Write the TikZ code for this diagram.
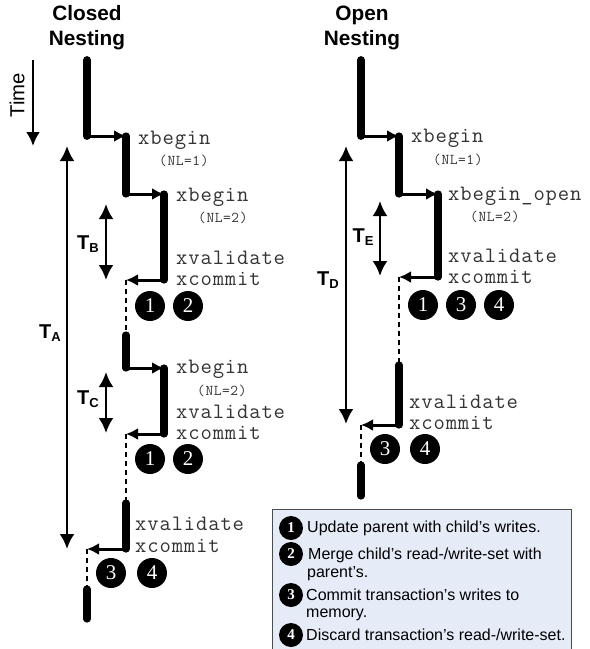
\documentclass[tikz,border=0pt]{standalone}
\usepackage{fontspec}
\setmainfont{Liberation Sans}
\newfontfamily\numfont{Liberation Serif}
\newfontfamily\opfont[LetterSpace=3.9]{Latin Modern Mono}
\usetikzlibrary{arrows.meta}
\definecolor{legendblue}{RGB}{230,236,247}
\newcommand{\dursub}[2]{#1\raisebox{-3pt}{\fontsize{13}{13}\selectfont #2}}
\begin{document}
\begin{tikzpicture}[x=1pt,y=-1pt,
txn/.style={line width=7.8pt,line cap=round},
txnT/.style={txn,line width=7.2pt},
call/.style={line width=3pt,-{Latex[length=12pt,width=12pt]}},
gap/.style={line width=2.8pt,dash pattern=on 5pt off 4pt},
span/.style={line width=2.6pt,{Latex[length=15pt,width=15pt]}-{Latex[length=15pt,width=15pt]}},
oneway/.style={line width=2.6pt,-{Latex[length=14pt,width=14pt]}},
op/.style={anchor=west,inner sep=0pt,text=black!80,font=\opfont\fontsize{22}{22}\selectfont},
nl/.style={anchor=west,inner sep=0pt,text=black!80,font=\opfont\fontsize{15}{15}\selectfont},
dur/.style={inner sep=0pt,font=\bfseries\fontsize{20}{20}\selectfont},
head/.style={inner sep=0pt,align=center,font=\bfseries\fontsize{20.8}{25}\selectfont},
num/.style={shape=circle,fill=black,text=white,inner sep=0pt,minimum size=30pt,font=\numfont\fontsize{21}{21}\selectfont},
numL/.style={num,minimum size=24pt,font=\numfont\bfseries\fontsize{15}{15}\selectfont},
leg/.style={anchor=west,inner sep=0pt,font=\fontsize{16}{16}\selectfont}]
\useasboundingbox (0,0) rectangle (590,649);
\def\xa{87};
\def\xb{126};
\def\xc{164};
\def\xd{361};
\def\xe{399};
\def\xf{438};

\node[head] (closedH) at (87,28) {Closed\\Nesting};
\node[head] (openH) at (362,28) {Open\\Nesting};
\node[inner sep=0pt,rotate=90,font=\fontsize{20.3}{20}\selectfont] (timeL) at (17,95) {Time};
\coordinate (time0) at (33,60);
\coordinate (time1) at (33,146);
\draw[oneway] (time0) -- (time1);

\coordinate (A1) at (\xa,60);
\coordinate (A2) at (\xa,136);
\coordinate (A3) at (\xb,136);
\coordinate (A4) at (\xb,194);
\coordinate (A5) at (\xc,194);
\coordinate (A6) at (\xc,280);
\coordinate (A7) at (\xb,280);
\coordinate (A8) at (\xb,335);
\coordinate (A9) at (\xb,368);
\coordinate (A10) at (\xc,368);
\coordinate (A11) at (\xc,434);
\coordinate (A12) at (\xb,434);
\coordinate (A13) at (\xb,503);
\coordinate (A14) at (\xb,549);
\coordinate (A15) at (\xa,549);
\coordinate (A16) at (\xa,589);
\coordinate (A17) at (\xa,619);
\draw[txn] (A1) -- (A2);
\draw[call] (A2) -- (A3);
\draw[txnT] (A3) -- (A4);
\draw[call] (A4) -- (A5);
\draw[txnT] (A5) -- (A6);
\draw[call] (A6) -- (A7);
\draw[gap] (A7) -- (A8);
\draw[txnT] (A8) -- (A9);
\draw[call] (A9) -- (A10);
\draw[txnT] (A10) -- (A11);
\draw[call] (A11) -- (A12);
\draw[gap] (A12) -- (A13);
\draw[txnT] (A13) -- (A14);
\draw[call] (A14) -- (A15);
\draw[gap] (A15) -- (A16);
\draw[txnT] (A16) -- (A17);

\node[op] (Ax1) at (138,140) {xbegin};
\node[nl] (Anl1) at (159,161) {(NL=1)};
\node[op] (Ax2) at (176,197) {xbegin};
\node[nl] (Anl2) at (198,218) {(NL=2)};
\node[op] (Av1) at (176,258) {xvalidate};
\node[op] (Ac1) at (176,279) {xcommit};
\node[op] (Ax3) at (176,369) {xbegin};
\node[nl] (Anl3) at (197,391) {(NL=2)};
\node[op] (Av2) at (176,412) {xvalidate};
\node[op] (Ac2) at (176,433) {xcommit};
\node[op] (Av3) at (135,524) {xvalidate};
\node[op] (Ac3) at (135,546) {xcommit};

\node[num] (An1) at (150,306) {1};
\node[num] (An2) at (188,306) {2};
\node[num] (An3) at (150,459) {1};
\node[num] (An4) at (188,459) {2};
\node[num] (An5) at (111,573) {3};
\node[num] (An6) at (152,573) {4};

\coordinate (TA0) at (67,146);
\coordinate (TA1) at (67,549);
\draw[span] (TA0) -- (TA1);
\node[dur] (TA) at (50,333) {\dursub{T}{A}};
\coordinate (TB0) at (106,204);
\coordinate (TB1) at (106,280);
\draw[span] (TB0) -- (TB1);
\node[dur] (TB) at (88,244) {\dursub{T}{B}};
\coordinate (TC0) at (106,372);
\coordinate (TC1) at (106,433);
\draw[span] (TC0) -- (TC1);
\node[dur] (TC) at (88,399) {\dursub{T}{C}};

\coordinate (D1) at (\xd,60);
\coordinate (D2) at (\xd,136);
\coordinate (D3) at (\xe,136);
\coordinate (D4) at (\xe,194);
\coordinate (D5) at (\xf,194);
\coordinate (D6) at (\xf,277);
\coordinate (D7) at (\xe,277);
\coordinate (D8) at (\xe,365);
\coordinate (D9) at (\xe,425);
\coordinate (D10) at (\xd,425);
\coordinate (D11) at (\xd,465);
\coordinate (D12) at (\xd,496);
\draw[txn] (D1) -- (D2);
\draw[call] (D2) -- (D3);
\draw[txnT] (D3) -- (D4);
\draw[call] (D4) -- (D5);
\draw[txnT] (D5) -- (D6);
\draw[call] (D6) -- (D7);
\draw[gap] (D7) -- (D8);
\draw[txnT] (D8) -- (D9);
\draw[call] (D9) -- (D10);
\draw[gap] (D10) -- (D11);
\draw[txnT] (D11) -- (D12);

\node[op] (Dx1) at (411,138) {xbegin};
\node[nl] (Dnl1) at (433,160) {(NL=1)};
\node[op] (Dx2) at (448,196) {xbegin\_open};
\node[nl] (Dnl2) at (470,217) {(NL=2)};
\node[op] (Dv1) at (448,256) {xvalidate};
\node[op] (Dc1) at (448,277) {xcommit};
\node[op] (Dv2) at (409,402) {xvalidate};
\node[op] (Dc2) at (409,423) {xcommit};

\node[num] (Dn1) at (423,305) {1};
\node[num] (Dn2) at (461,305) {3};
\node[num] (Dn3) at (499,305) {4};
\node[num] (Dn4) at (385,449) {3};
\node[num] (Dn5) at (425,449) {4};

\coordinate (TD0) at (346,146);
\coordinate (TD1) at (346,424);
\draw[span] (TD0) -- (TD1);
\node[dur] (TD) at (328,280) {\dursub{T}{D}};
\coordinate (TE0) at (380,201);
\coordinate (TE1) at (380,276);
\draw[span] (TE0) -- (TE1);
\node[dur] (TE) at (363,237) {\dursub{T}{E}};

\draw[fill=legendblue,draw=black!70,line width=1pt] (272,509) rectangle (571,655);
\node[numL] (Ln1) at (291,528) {1};
\node[leg] (Lt1) at (307,528) {Update parent with child’s writes.};
\node[numL] (Ln2) at (291,554) {2};
\node[leg] (Lt2) at (308,555) {Merge child’s read-/write-set with};
\node[leg] (Lt2b) at (307,574) {parent’s.};
\node[numL] (Ln3) at (291,595) {3};
\node[leg] (Lt3) at (306,595) {Commit transaction’s writes to};
\node[leg] (Lt3b) at (306,615) {memory.};
\node[numL] (Ln4) at (291,635) {4};
\node[leg] (Lt4) at (306,635) {Discard transaction’s read-/write-set.};
\end{tikzpicture}
\end{document}
